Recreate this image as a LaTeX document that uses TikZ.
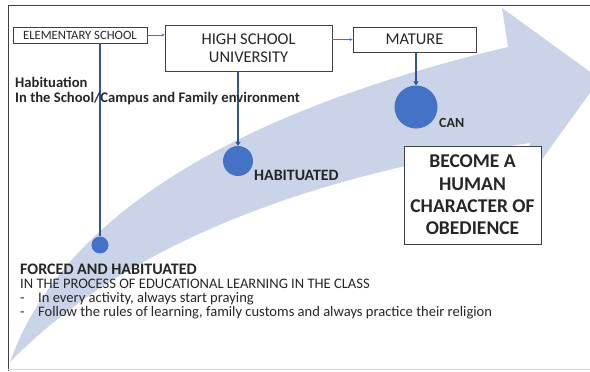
\documentclass[tikz,border=0pt]{standalone}
\usepackage{fontspec}
\setmainfont{Carlito}
\usetikzlibrary{arrows.meta}
\definecolor{band}{RGB}{203,211,232}
\definecolor{dotblue}{RGB}{68,114,196}
\definecolor{linkblue}{RGB}{47,85,151}
\definecolor{framegray}{RGB}{64,64,64}
\newcommand{\fsz}[2]{\fontsize{#1}{#2}\selectfont}
\tikzset{
  box/.style={draw=framegray, line width=0.9bp, fill=white, inner sep=0pt, text=black!85},
  dot/.style={circle, fill=dotblue, inner sep=0pt},
  stem/.style={draw=linkblue, line width=2.5bp},
  stemtip/.style={stem, -{Triangle[length=4bp,width=5bp]}},
  link/.style={draw=dotblue, line width=0.8bp, -{Stealth[length=3bp,width=3bp]}},
  label/.style={anchor=base west, inner sep=0pt, text=black!85},
}
\begin{document}
\begin{tikzpicture}[x=1bp,y=-1bp]
\useasboundingbox (0,0) rectangle (590,371);
% curved background arrow
\begin{scope}
  \clip (0,0) rectangle (590,371);
  \fill[band] (10,362) .. controls (55,235) and (200,120) .. (508,47)
    -- (502,8) -- (600,79) -- (522,187) -- (530,143)
    .. controls (240,185) and (90,280) .. (10,362) -- cycle;
\end{scope}
% frame
\draw[framegray, line width=0.8bp] (8,371) -- (8,5) -- (590,5);
\draw[black!15, line width=0.8bp] (8,369.5) -- (590,369.5);

% stage boxes
\node[box, minimum width=134bp, minimum height=16bp, font=\fsz{12.7}{14}] (elem) at (80,35) {ELEMENTARY SCHOOL};
\node[box, minimum width=167bp, minimum height=46bp, align=center, font=\fsz{16.5}{18.5}] (high) at (248.5,48) {HIGH SCHOOL\\UNIVERSITY};
\node[box, minimum width=123bp, minimum height=25bp, font=\fsz{16.5}{18.5}] (mature) at (414.5,39.5) {MATURE};
\draw[link] (elem.east) -- (elem.east -| high.west);
\draw[link] (mature.west -| high.east) -- (mature.west);

% milestones
\node[dot, minimum size=17bp] (d1) at (100,245) {};
\node[dot, minimum size=30bp] (d2) at (238,161) {};
\node[dot, minimum size=43bp] (d3) at (416,107) {};
\draw[stem] (d1 |- elem.south) -- (d1.north);
\draw[stemtip] (d2 |- high.south) -- (d2.north);
\draw[stemtip] (d3 |- mature.south) -- (d3.north);

\node[label, font=\bfseries\fsz{14.7}{16}] (hab1) at (15,87) {Habituation};
\node[label, font=\bfseries\fsz{14.7}{16}] (hab2) at (15,102) {In the School/Campus and Family environment};
\node[label, font=\bfseries\fsz{15.9}{17}] (habd) at (254,180) {HABITUATED};
\node[label, font=\bfseries\fsz{14}{15}] (can) at (439,127) {CAN};

\node[box, minimum width=137bp, minimum height=98bp, align=center, font=\bfseries\fsz{19.6}{22.5}] (result) at (472.5,195) {BECOME A\\HUMAN\\CHARACTER OF\\OBEDIENCE};

% description
\node[label, font=\bfseries\fsz{16.1}{17}] (forced) at (20,274) {FORCED AND HABITUATED};
\node[label, font=\fsz{14.6}{15}] (process) at (20,288) {IN THE PROCESS OF EDUCATIONAL LEARNING IN THE CLASS};
\node[label, font=\fsz{14.6}{15}] (dash1) at (20,302) {-};
\node[label, font=\fsz{14.6}{15}] (item1) at (38,302) {In every activity, always start praying};
\node[label, font=\fsz{14.6}{15}] (dash2) at (20,316) {-};
\node[label, font=\fsz{14.6}{15}] (item2) at (38,316) {Follow the rules of learning, family customs and always practice their religion};
\end{tikzpicture}
\end{document}
